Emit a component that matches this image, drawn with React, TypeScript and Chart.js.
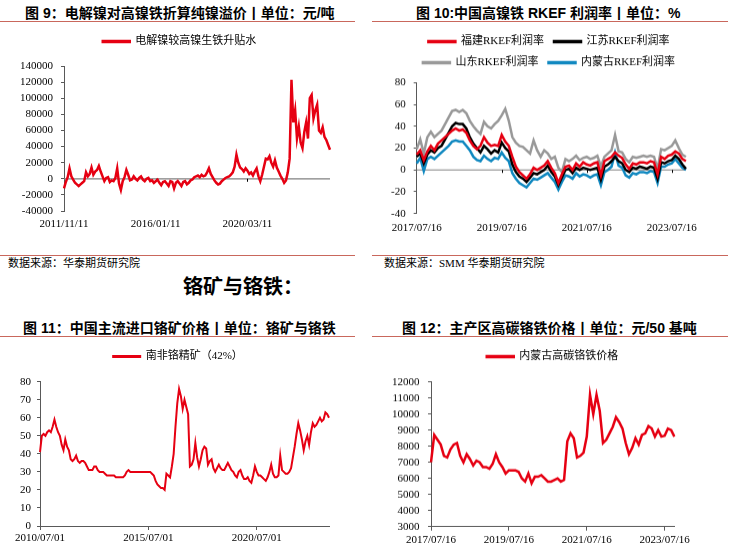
import { useEffect, useRef } from 'react';
import { Chart, registerables } from 'chart.js';

Chart.register(...registerables);

const SERIF = "'Liberation Serif', 'Noto Sans CJK SC', serif";
const SANS = "'Liberation Sans', 'Noto Sans CJK SC', sans-serif";
const AXIS = '#595959';
const RED = '#e60012';
const BLACK = '#000000';
const GRAY = '#999999';
const BLUE = '#1088c0';
const RULE = '#c9675c';

Chart.defaults.font.family = SERIF;
Chart.defaults.font.size = 11;
Chart.defaults.color = '#000';

// ---------- chart 9: electrolytic nickel vs NPI premium (monthly, 2011/11 - 2023/12)
const c9Ticks = ['2011/11/11', '2016/01/11', '2020/03/11'];
const c9Premium = [
  -12000, -4000, 2000, 13000, 3000, -1000, -5000, -7000, -9000, -7000,
  -5000, -3000, 8000, 3000, 6000, 14000, 5000, 9000, 11000, 16000,
  9000, 3000, -3000, 1000, 2000, -4000, -2000, -3000, 1000, 13000,
  -6000, -14000, -3000, 2000, 11000, 5000, -2000, -1000, 3000, 0,
  -2000, 1000, 3000, -1000, -3000, 0, 1000, -3000, -2000, -5000,
  -3000, -1000, -5000, -8000, -4000, -3000, -6000, -9000, -3000, -4000,
  -12000, -5000, -3000, -6000, -9000, -4000, -3000, -7000, -5000, -2000,
  -1000, 2000, 3000, 4000, 2000, 5000, 3000, 4000, 8000, 13000,
  6000, 2000, -2000, -5000, -7000, -6000, -3000, -1000, 1000, 2000,
  3000, 5000, 8000, 15000, 30000, 20000, 14000, 12000, 9000, 13000,
  10000, 6000, 8000, 4000, 9000, 13000, 3000, -3000, 5000, 15000,
  25000, 24000, 28000, 20000, 15000, 23000, 14000, 9000, 4000, 0,
  -5000, -2000, 8000, 25000, 123000, 70000, 85000, 50000, 65000, 45000,
  38000, 58000, 70000, 50000, 100000, 104000, 75000, 85000, 92000, 60000,
  57000, 64000, 52000, 48000, 42000, 36000,
];

// ---------- chart 10: RKEF profit margins (monthly, 2017/07 - 2023/11)
const c10Ticks = ['2017/07/16', '2019/07/16', '2021/07/16', '2023/07/16'];
const c10Fujian = [
  14, 18, 9, 17, 22, 18, 24, 27, 30, 33,
  36, 38, 36, 37, 34, 27, 22, 19, 22, 30,
  25, 22, 23, 22, 32, 26, 22, 12, 3, -2,
  -5, -8, -4, 2, 0, 2, 4, 8, 2, -3,
  -12, -4, 3, 4, 0, 6, 3, 7, 5, 4,
  6, 7, -5, 8, 10, 12, 16, 13, 11, 5,
  1, 6, 5, 7, 7, 6, 8, 7, -4, 12,
  10, 13, 14, 17, 15, 10, 8,
];
const c10Jiangsu = [
  12, 15, 6, 14, 18, 16, 20, 22, 28, 34,
  40, 43, 42, 42, 38, 30, 24, 20, 16, 22,
  19, 15, 18, 16, 25, 20, 17, 5, -2, -6,
  -8, -11, -7, -3, -4, -2, 0, 4, -2, -6,
  -14, -7, 0, 1, -3, 2, 0, 2, 1, 0,
  1, 2, -9, 3, 5, 8, 12, 8, 6, 0,
  -2, 2, 1, 3, 2, 1, 3, 2, -8, 7,
  6, 8, 9, 13, 10, 5, 1,
];
const c10Shandong = [
  19, 28, 15, 30, 35, 30, 33, 36, 42, 48,
  54, 55, 53, 55, 52, 45, 40, 36, 33, 44,
  40, 38, 42, 45, 50, 56, 45, 30, 25, 22,
  21, 18, 15, 27, 18, 12, 18, 15, 10, 12,
  2, -2, 10, 8, 10, 13, 9, 11, 12, 10,
  11, 13, 3, 12, 15, 18, 32, 17, 16, 10,
  7, 12, 11, 12, 13, 12, 13, 12, 1, 19,
  18, 20, 22, 27, 20, 14, 12,
];
const c10InnerMongolia = [
  6, 11, -1, 10, 12, 10, 13, 16, 19, 22,
  26, 27, 26, 26, 22, 18, 12, 9, 8, 13,
  10, 8, 11, 10, 16, 11, 8, -3, -8, -12,
  -14, -16, -12, -8, -9, -7, -5, -3, -7, -11,
  -18, -11, -5, -6, -8, -3, -6, -4, -5, -7,
  -5, -4, -14, -2, 0, 3, 16, 4, 2, -5,
  -7, -3, -4, -2, -2, -3, -1, -2, -12, 3,
  3, 5, 6, 10, 6, 2, 0,
];

// ---------- chart 11: South African chrome concentrate 42% (monthly, 2010/07 - 2023/11)
const c11Ticks = ['2010/07/01', '2015/07/01', '2020/07/01'];
const c11SouthAfrica = [
  41, 50, 51, 50, 52, 53, 52, 55, 59, 55,
  52, 50, 45, 42, 48, 44, 42, 37, 36, 37,
  39, 36, 35, 36, 36, 35, 33, 31, 31, 31,
  33, 33, 31, 30, 30, 30, 29, 28, 28, 28,
  28, 28, 27, 27, 27, 27, 27, 28, 30, 31,
  30, 30, 30, 30, 30, 30, 30, 30, 30, 30,
  30, 30, 29, 28, 25, 23, 22, 21, 21, 20,
  29, 28, 27, 33, 40, 55, 68, 76, 72, 65,
  70, 66, 62, 33, 34, 37, 46, 38, 33, 37,
  42, 44, 43, 34, 36, 37, 32, 30, 32, 34,
  32, 31, 31, 33, 35, 33, 31, 30, 28, 27,
  30, 31, 28, 26, 26, 27, 25, 24, 28, 33,
  30, 28, 28, 27, 26, 25, 27, 30, 34, 29,
  27, 27, 28, 39, 31, 30, 29, 29, 30, 32,
  38, 44, 51, 57, 53, 48, 42, 47, 50, 45,
  52, 57, 55, 56, 58, 60, 58, 59, 63, 62,
  60,
];

// ---------- chart 12: Inner Mongolia high-carbon ferrochrome (monthly, 2017/07 - 2023/10)
const c12Ticks = ['2017/07/16', '2019/07/16', '2021/07/16', '2023/07/16'];
const c12FeCr = [
  7000, 8700, 8400, 8100, 7400, 7300, 7800, 8100, 8200, 7400,
  7000, 7500, 7200, 6800, 7100, 7000, 6700, 6700, 6600, 6900,
  7500, 7000, 6700, 6300, 6500, 6500, 6500, 6400, 6000, 5800,
  6300, 5700, 6100, 6100, 6200, 6000, 5800, 5800, 5900, 6000,
  5800, 5900, 8300, 8800, 8500, 7300, 7400, 7600, 8600, 11200,
  10000, 11200, 10200, 8200, 8400, 8800, 9200, 9800, 9500, 9100,
  8200, 7500, 7900, 8500, 8100, 8700, 8800, 9250, 9100, 8600,
  9000, 8600, 8650, 9100, 9000, 8600,
];

function monthLabels(y: number, m: number, d: number, n: number): string[] {
  const out: string[] = [];
  for (let i = 0; i < n; i++) {
    const t = m - 1 + i;
    const yy = y + Math.floor(t / 12);
    const mm = (t % 12) + 1;
    out.push(`${yy}/${String(mm).padStart(2, '0')}/${String(d).padStart(2, '0')}`);
  }
  return out;
}

const c9Labels = monthLabels(2011, 11, 11, c9Premium.length);
const c10Labels = monthLabels(2017, 7, 16, c10Fujian.length);
const c11Labels = monthLabels(2010, 7, 1, c11SouthAfrica.length);
const c12Labels = monthLabels(2017, 7, 16, c12FeCr.length);

const legendGap = (px: number) => ({
  id: 'legendGap',
  beforeInit(chart: any) {
    const orig = chart.legend.fit;
    chart.legend.fit = function () {
      orig.call(this);
      this.height += px;
    };
  },
});

const zeroAxis = {
  id: 'zeroAxis',
  beforeDatasetsDraw(chart: any) {
    const xs = chart.scales.x;
    const ys = chart.scales.y;
    const py = ys.getPixelForValue(0);
    const ctx = chart.ctx;
    ctx.save();
    ctx.strokeStyle = '#808080';
    ctx.lineWidth = 1.2;
    ctx.beginPath();
    ctx.moveTo(chart.chartArea.left, py);
    ctx.lineTo(chart.chartArea.right, py);
    ctx.stroke();
    ctx.strokeStyle = '#000';
    ctx.lineWidth = 1;
    ctx.beginPath();
    xs.ticks.forEach((t: any, i: number) => {
      if (i === 0) return;
      const px = Math.round(xs.getPixelForValue(t.value)) + 0.5;
      ctx.moveTo(px, py);
      ctx.lineTo(px, py + 3);
    });
    ctx.stroke();
    ctx.restore();
  },
};

type Spec = {
  labels: string[];
  ticks: string[];
  datasets: { label: string; data: number[]; color: string }[];
  yMin: number;
  yMax: number;
  yStep: number;
  yWidth: number;
  yPad: number;
  rightWidth: number;
  xHeight: number;
  xPad: number;
  zero: boolean;
  gap: number;
  lineWidth: number;
};

function makeConfig(s: Spec): any {
  const font = { family: SERIF, size: 11 };
  const idx = s.ticks.map((l) => s.labels.indexOf(l));
  const plugins: any[] = [legendGap(s.gap)];
  if (s.zero) plugins.push(zeroAxis);
  return {
    type: 'line',
    data: {
      labels: s.labels,
      datasets: s.datasets.map((d) => ({
        label: d.label,
        data: d.data,
        borderColor: d.color,
        backgroundColor: d.color,
        borderWidth: s.lineWidth,
        pointRadius: 0,
        fill: false,
        tension: 0,
      })),
    },
    plugins,
    options: {
      animation: false,
      responsive: true,
      maintainAspectRatio: false,
      layout: { padding: 0 },
      plugins: {
        legend: {
          display: true,
          position: 'top',
          labels: {
            boxWidth: 27,
            boxHeight: 1,
            padding: 10,
            font,
            color: '#000',
          },
        },
        tooltip: { enabled: false },
      },
      scales: {
        x: {
          type: 'category',
          offset: false,
          grid: {
            display: !s.zero,
            drawOnChartArea: false,
            drawTicks: !s.zero,
            tickLength: 4,
            tickColor: AXIS,
          },
          border: { display: !s.zero, color: AXIS, width: 1 },
          ticks: {
            autoSkip: false,
            maxRotation: 0,
            minRotation: 0,
            padding: s.xPad,
            font,
            color: '#000',
          },
          afterBuildTicks: (sc: any) => {
            sc.ticks = idx.map((v) => ({ value: v }));
          },
          afterFit: (sc: any) => {
            sc.height = s.xHeight;
          },
        },
        y: {
          type: 'linear',
          position: 'left',
          min: s.yMin,
          max: s.yMax,
          ticks: {
            stepSize: s.yStep,
            autoSkip: false,
            padding: s.yPad,
            font,
            color: '#000',
            callback: (v: number) => String(v),
          },
          grid: { drawOnChartArea: false, drawTicks: true, tickLength: 3, tickColor: AXIS },
          border: { display: true, color: AXIS, width: 1 },
          afterFit: (sc: any) => {
            sc.width = s.yWidth;
          },
        },
        yR: {
          type: 'linear',
          position: 'right',
          display: true,
          grid: { display: false },
          border: { display: false },
          ticks: { display: false },
          afterFit: (sc: any) => {
            sc.width = s.rightWidth;
          },
        },
      },
    },
  };
}

function ChartBox(props: { left: number; top: number; width: number; height: number; spec: Spec }) {
  const ref = useRef<HTMLCanvasElement | null>(null);
  useEffect(() => {
    if (!ref.current) return;
    const chart = new Chart(ref.current, makeConfig(props.spec));
    return () => chart.destroy();
  }, []);
  return (
    <div style={{ position: 'absolute', left: props.left, top: props.top, width: props.width, height: props.height }}>
      <canvas ref={ref} style={{ display: 'block' }} />
    </div>
  );
}

const titleStyle = (left: number, top: number): any => ({
  position: 'absolute',
  left,
  top,
  fontFamily: SANS,
  fontWeight: 700,
  fontSize: 14,
  lineHeight: '20px',
  whiteSpace: 'nowrap',
  color: '#000',
});

const rule = (left: number, top: number, width: number): any => ({
  position: 'absolute',
  left,
  top,
  width,
  height: 1,
  background: RULE,
});

const sourceStyle = (left: number, top: number): any => ({
  position: 'absolute',
  left,
  top,
  fontFamily: SERIF,
  fontSize: 11,
  lineHeight: '14px',
  whiteSpace: 'nowrap',
  color: '#000',
});

const spec9: Spec = {
  labels: c9Labels,
  ticks: c9Ticks,
  datasets: [{ label: '电解镍较高镍生铁升贴水', data: c9Premium, color: RED }],
  yMin: -40000, yMax: 140000, yStep: 20000,
  yWidth: 64, yPad: 8, rightWidth: 29,
  xHeight: 30, xPad: 6.4, zero: true, gap: 9, lineWidth: 2.5,
};

const spec10: Spec = {
  labels: c10Labels,
  ticks: c10Ticks,
  datasets: [
    { label: '福建RKEF利润率', data: c10Fujian, color: RED },
    { label: '江苏RKEF利润率', data: c10Jiangsu, color: BLACK },
    { label: '山东RKEF利润率', data: c10Shandong, color: GRAY },
    { label: '内蒙古RKEF利润率', data: c10InnerMongolia, color: BLUE },
  ],
  yMin: -40, yMax: 80, yStep: 20,
  yWidth: 40.7, yPad: 8, rightWidth: 36.1,
  xHeight: 30, xPad: 7.4, zero: true, gap: 4.3, lineWidth: 2.5,
};

const spec11: Spec = {
  labels: c11Labels,
  ticks: c11Ticks,
  datasets: [{ label: '南非铬精矿（42%）', data: c11SouthAfrica, color: RED }],
  yMin: 0, yMax: 80, yStep: 10,
  yWidth: 40, yPad: 6, rightWidth: 27,
  xHeight: 23, xPad: 1.7, zero: false, gap: 9.7, lineWidth: 2,
};

const spec12: Spec = {
  labels: c12Labels,
  ticks: c12Ticks,
  datasets: [{ label: '内蒙古高碳铬铁价格', data: c12FeCr, color: RED }],
  yMin: 3000, yMax: 12000, yStep: 1000,
  yWidth: 55, yPad: 8.5, rightWidth: 54.6,
  xHeight: 23, xPad: 3, zero: false, gap: 9.7, lineWidth: 2.5,
};

export default function App() {
  return (
    <div style={{ position: 'absolute', left: 0, top: 0, width: 752, height: 549, background: '#fff', overflow: 'hidden' }}>
      <div style={titleStyle(25, 3)}>图 9：电解镍对高镍铁折算纯镍溢价丨单位：元/吨</div>
      <div style={titleStyle(416, 3)}>图 10:中国高镍铁 RKEF 利润率丨单位：%</div>
      <div style={rule(0, 21, 355)} />
      <div style={rule(372, 21, 356)} />

      <ChartBox left={0} top={26} width={359} height={215} spec={spec9} />
      <ChartBox left={376} top={26} width={346} height={216.7} spec={spec10} />

      <div style={rule(0, 255, 355)} />
      <div style={rule(372, 255, 356)} />
      <div style={sourceStyle(8, 256)}>数据来源：华泰期货研究院</div>
      <div style={sourceStyle(384, 256)}>数据来源：SMM 华泰期货研究院</div>

      <div
        style={{
          position: 'absolute',
          left: 183,
          top: 272,
          fontFamily: SANS,
          fontWeight: 700,
          fontSize: 20,
          lineHeight: '30px',
          whiteSpace: 'nowrap',
          color: '#000',
        }}
      >
        铬矿与铬铁：
      </div>

      <div style={titleStyle(23, 318)}>图 11：中国主流进口铬矿价格丨单位：铬矿与铬铁</div>
      <div style={titleStyle(402, 318)}>图 12：主产区高碳铬铁价格丨单位：元/50 基吨</div>
      <div style={rule(0, 336, 355)} />
      <div style={rule(372, 336, 356)} />

      <ChartBox left={0} top={341} width={356} height={208} spec={spec11} />
      <ChartBox left={376} top={341} width={353} height={207.7} spec={spec12} />
    </div>
  );
}
